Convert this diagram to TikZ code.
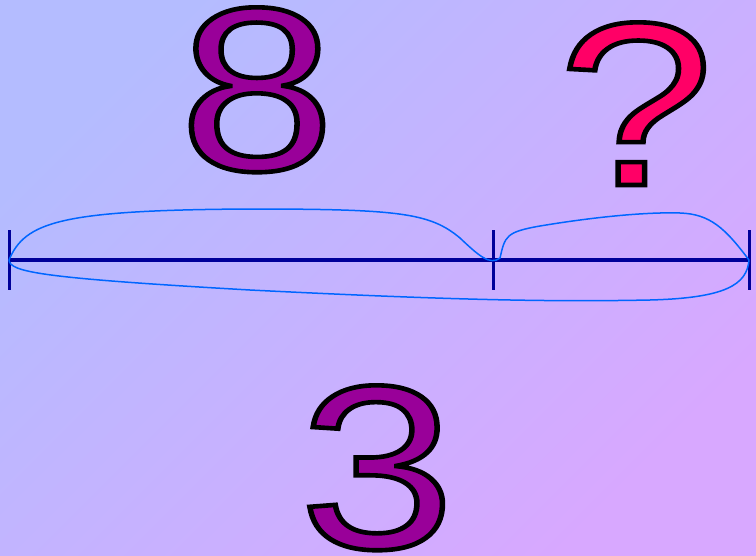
\documentclass[tikz,border=0pt]{standalone}
\usepackage{fontspec}
\setmainfont{Liberation Sans}
\definecolor{numpurple}{RGB}{153,0,153}
\definecolor{numpink}{RGB}{255,0,102}
\definecolor{linenavy}{RGB}{0,0,153}
\definecolor{bracecol}{RGB}{0,102,255}
\definecolor{bgtl}{RGB}{180,188,255}
\definecolor{bgbr}{RGB}{216,168,255}
\newcommand{\outlined}[2]{\scalebox{1.2}[1]{\color{#1}\special{pdf:code 0 0 0 RG 4.6 w 2 Tr}#2\special{pdf:code 0 Tr}}}
\tikzset{
  bignum/.style={inner sep=0pt, anchor=base, font=\fontsize{233}{233}\selectfont},
  mainline/.style={draw=linenavy, line width=4pt},
  tickmark/.style={draw=linenavy, line width=3pt},
  bracecurve/.style={draw=bracecol, line width=1.5pt}
}
\begin{document}
\begin{tikzpicture}[x=1pt,y=-1pt]
\shade[top color=bgtl, bottom color=bgbr, shading angle=45] (0,0) rectangle (756,555);
\useasboundingbox (0,0) rectangle (756,555);
\coordinate (L) at (9,260);
\coordinate (M) at (493,260);
\coordinate (R) at (749,260);
\draw[mainline] (L) -- (R);
\draw[tickmark] (9,230) -- (9,290);
\draw[tickmark] (493,230) -- (493,290);
\draw[tickmark] (749,230) -- (749,290);
\draw[bracecurve] (L) .. controls (25,222) and (60,210) .. (250,209)
  .. controls (400,209) and (430,213) .. (460,238)
  .. controls (478,255) and (490,266) .. (500,258)
  .. controls (505,236) and (506,232) .. (540,226)
  .. controls (600,216) and (650,212) .. (680,213)
  .. controls (710,214) and (725,228) .. (R);
\draw[bracecurve] (L) .. controls (10,272) and (40,278) .. (250,290)
  .. controls (450,300) and (550,302) .. (650,300)
  .. controls (725,298) and (747,285) .. (R);
\node[bignum] (eight) at (257,170) {\outlined{numpurple}{8}};
\node[bignum] (quest) at (636,185) {\outlined{numpink}{?}};
\node[bignum] (three) at (377,548) {\outlined{numpurple}{3}};
\end{tikzpicture}
\end{document}
